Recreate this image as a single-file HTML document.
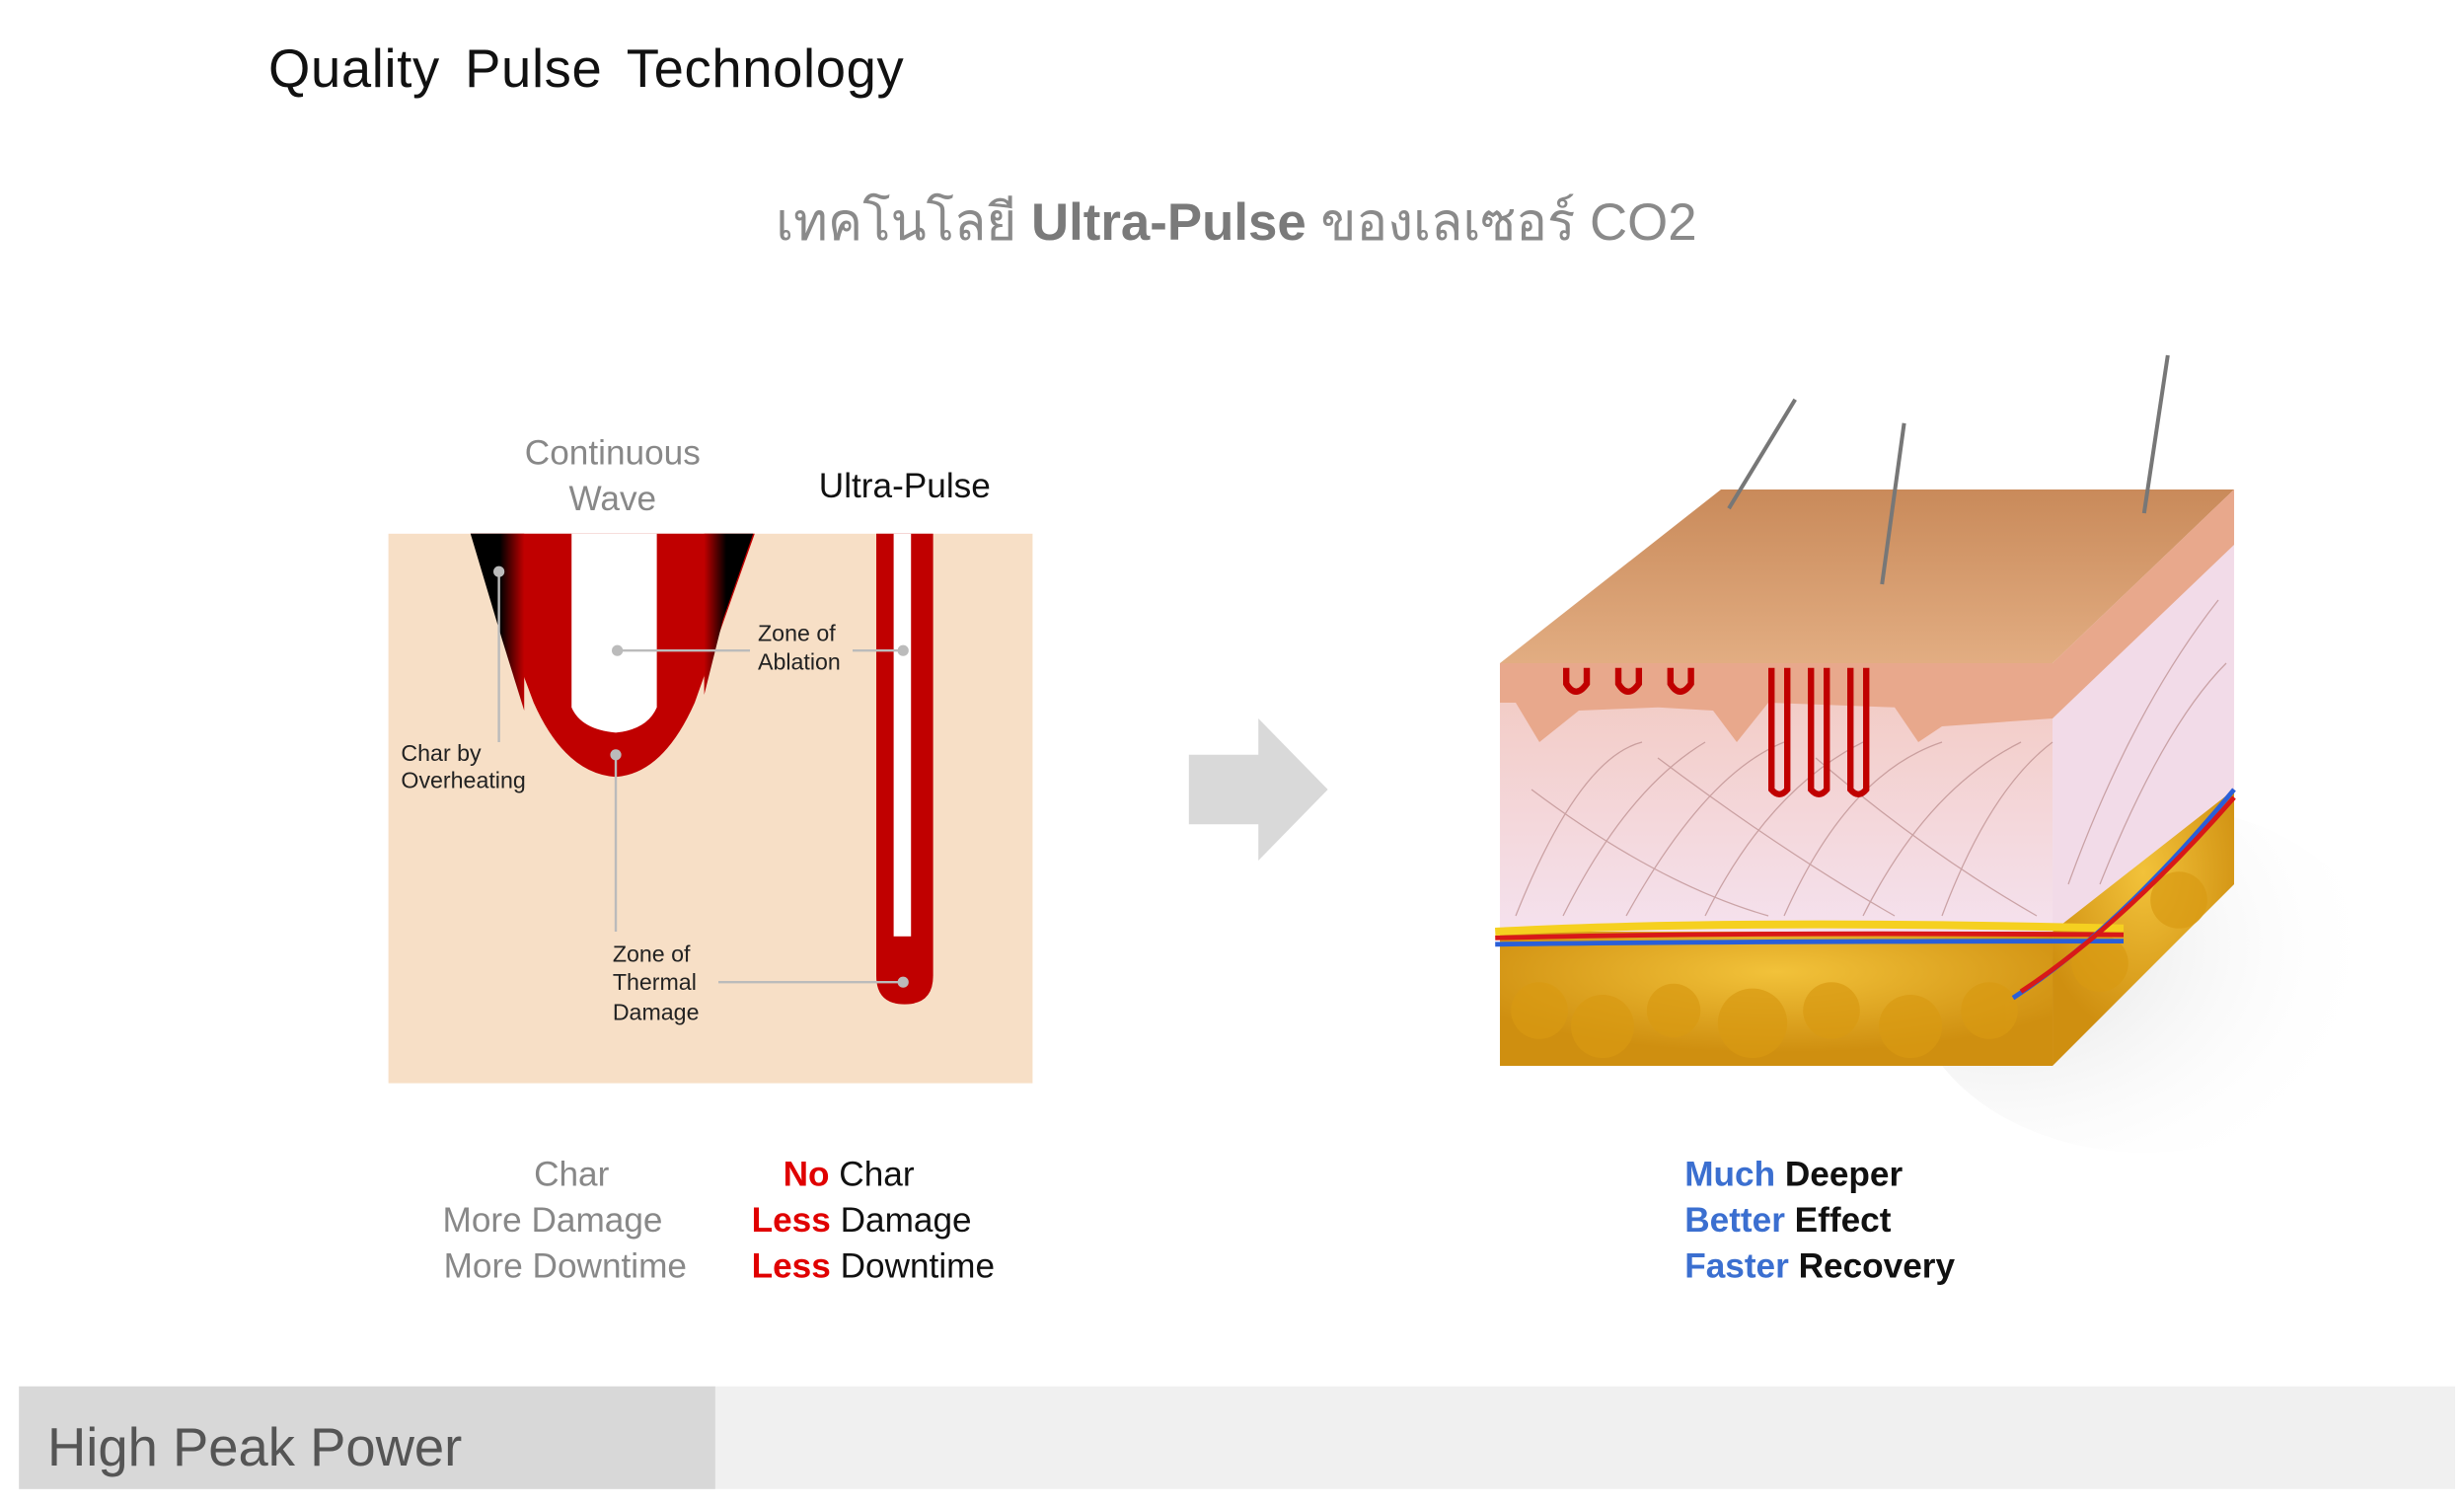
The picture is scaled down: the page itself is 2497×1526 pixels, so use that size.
<!DOCTYPE html>
<html><head><meta charset="utf-8"><style>
html,body{margin:0;padding:0;background:#fff;}
svg{display:block}
text{font-family:"Liberation Sans","Noto Sans CJK SC",sans-serif}
</style></head><body>
<svg width="2497" height="1526" viewBox="0 0 1560.6 953.75" xmlns="http://www.w3.org/2000/svg">
<defs>
<linearGradient id="charL" x1="0" x2="1"><stop offset="0" stop-color="#000"/><stop offset="0.55" stop-color="#000"/><stop offset="1" stop-color="#c00000"/></linearGradient>
<linearGradient id="charR" x1="1" x2="0"><stop offset="0" stop-color="#000"/><stop offset="0.55" stop-color="#000"/><stop offset="1" stop-color="#c00000"/></linearGradient>
<linearGradient id="top" x1="0" y1="0" x2="0" y2="1"><stop offset="0" stop-color="#c98a5a"/><stop offset="1" stop-color="#e2ad82"/></linearGradient>
<linearGradient id="derm" x1="0" y1="0" x2="0" y2="1"><stop offset="0" stop-color="#f2c9c0"/><stop offset="1" stop-color="#f5e2ef"/></linearGradient>
<radialGradient id="fat" cx="0.5" cy="0.3" r="0.6"><stop offset="0" stop-color="#f2c23a"/><stop offset="1" stop-color="#cf8f10"/></radialGradient>
<radialGradient id="shadow" cx="0.2" cy="0.4" r="0.8"><stop offset="0" stop-color="#ddd"/><stop offset="1" stop-color="#fff" stop-opacity="0"/></radialGradient>
</defs>
<text x="170" y="55" font-size="34" fill="#111" word-spacing="6" letter-spacing="0.4">Quality Pulse Technology</text>
<text x="783" y="152" font-size="33" fill="#8a8a8a" text-anchor="middle">เทคโนโลยี <tspan font-weight="bold" fill="#7a7a7a">Ultra-Pulse</tspan> ของเลเซอร์ CO2</text>

<!-- left diagram -->
<text x="388" y="294" font-size="22" fill="#888" text-anchor="middle">Continuous</text>
<text x="388" y="323" font-size="22" fill="#888" text-anchor="middle">Wave</text>
<text x="573" y="315" font-size="22" fill="#111" text-anchor="middle">Ultra-Pulse</text>
<rect x="246" y="338" width="408" height="348" fill="#f7dfc6"/>
<path d="M298,338 L478,338 L440,445 Q420,490 390,492 Q358,490 338,445 Z" fill="#c00000"/>
<path d="M298,338 L332,338 L332,450 L318,405 Z" fill="url(#charL)"/>
<path d="M477,338 L446,338 L446,440 L458,392 Z" fill="url(#charR)"/>
<path d="M362,338 L416,338 L416,448 Q410,462 390,464 Q368,462 362,448 Z" fill="#fff"/>
<path d="M555,338 L591,338 L591,618 Q591,636 573,636 Q555,636 555,618 Z" fill="#c00000"/>
<rect x="566" y="338" width="11" height="255" fill="#fff"/>
<g stroke="#bbb" stroke-width="1.5" fill="none">
<path d="M316,362 L316,470"/><path d="M391,412 L475,412"/><path d="M540,412 L572,412"/>
<path d="M390,478 L390,590"/><path d="M455,622 L572,622"/>
</g>
<g fill="#bbb"><circle cx="316" cy="362" r="3.5"/><circle cx="391" cy="412" r="3.5"/><circle cx="572" cy="412" r="3.5"/><circle cx="390" cy="478" r="3.5"/><circle cx="572" cy="622" r="3.5"/></g>
<g font-size="14.5" fill="#222">
<text x="480" y="406">Zone of</text><text x="480" y="424">Ablation</text>
<text x="254" y="482">Char by</text><text x="254" y="499">Overheating</text>
<text x="388" y="609">Zone of</text><text x="388" y="627">Thermal</text><text x="388" y="646">Damage</text>
</g>
<g font-size="22">
<text x="362" y="751" fill="#888" text-anchor="middle">Char</text>
<text x="350" y="780" fill="#888" text-anchor="middle">More Damage</text>
<text x="358" y="809" fill="#888" text-anchor="middle">More Downtime</text>
<text x="496" y="751" fill="#111"><tspan fill="#e00000" font-weight="bold">No</tspan> Char</text>
<text x="476" y="780" fill="#111"><tspan fill="#e00000" font-weight="bold">Less</tspan> Damage</text>
<text x="476" y="809" fill="#111"><tspan fill="#e00000" font-weight="bold">Less</tspan> Downtime</text>
</g>

<polygon points="753,478 797,478 797,455 841,500 797,545 797,522 753,522" fill="#d9d9d9"/>

<!-- skin block -->
<ellipse cx="1360" cy="620" rx="150" ry="110" fill="url(#shadow)"/>
<polygon points="1300,420 1415,310 1415,560 1300,675" fill="#f2dbe8"/>
<polygon points="1300,590 1415,500 1415,560 1300,675" fill="url(#fat)"/>
<rect x="950" y="420" width="350" height="175" fill="url(#derm)"/>
<rect x="950" y="590" width="350" height="85" fill="url(#fat)"/>
<g fill="#d99a12" opacity="0.7">
<circle cx="975" cy="640" r="18"/><circle cx="1015" cy="650" r="20"/><circle cx="1060" cy="640" r="17"/><circle cx="1110" cy="648" r="22"/><circle cx="1160" cy="640" r="18"/><circle cx="1210" cy="650" r="20"/><circle cx="1260" cy="640" r="18"/><circle cx="1330" cy="610" r="18"/><circle cx="1380" cy="570" r="18"/>
</g>
<polygon points="950,420 1090,310 1415,310 1300,420" fill="url(#top)"/>
<path d="M950,420 L1300,420 L1415,310 L1415,345 L1300,455 L1230,460 L1215,470 L1200,448 L1120,445 L1100,470 L1085,450 L1050,448 L1000,450 L975,470 L960,445 L950,445 Z" fill="#e8a88c"/>
<g stroke="#b98a8a" stroke-width="0.8" fill="none" opacity="0.7">
<path d="M960,580 Q1000,480 1040,470"/><path d="M990,580 Q1030,500 1080,470"/><path d="M1030,580 Q1080,490 1130,470"/><path d="M1080,580 Q1120,500 1180,470"/><path d="M1130,580 Q1170,490 1230,470"/><path d="M1180,580 Q1220,500 1280,470"/><path d="M1230,580 Q1260,500 1300,470"/>
<path d="M970,500 Q1050,560 1120,580"/><path d="M1050,480 Q1130,540 1200,580"/><path d="M1150,480 Q1220,540 1290,580"/>
<path d="M1310,560 Q1350,450 1405,380"/><path d="M1330,560 Q1370,460 1410,420"/>
</g>
<g fill="none" stroke="#c00000" stroke-width="4">
<path d="M992,423 L992,433 Q998,443 1005,433 L1005,423"/><path d="M1025,423 L1025,433 Q1031,443 1038,433 L1038,423"/><path d="M1058,423 L1058,433 Q1064,443 1071,433 L1071,423"/>
<path d="M1122,423 L1122,500 Q1127,506 1132,500 L1132,423"/><path d="M1147,423 L1147,500 Q1152,506 1157,500 L1157,423"/><path d="M1172,423 L1172,500 Q1177,506 1182,500 L1182,423"/>
</g>
<path d="M947,590 Q1100,582 1345,588" stroke="#f5d020" stroke-width="5" fill="none"/>
<path d="M947,594 Q1100,590 1345,592" stroke="#d81818" stroke-width="3" fill="none"/>
<path d="M947,598 Q1100,596 1345,596" stroke="#2a5fd8" stroke-width="3" fill="none"/>
<path d="M1275,632 Q1340,590 1415,500" stroke="#2a5fd8" stroke-width="3" fill="none"/>
<path d="M1280,628 Q1345,585 1415,505" stroke="#d81818" stroke-width="3" fill="none"/>
<g stroke="#777" stroke-width="2.5" fill="none">
<path d="M1095,322 L1137,253"/><path d="M1192,370 L1206,268"/><path d="M1358,325 L1373,225"/>
</g>
<g font-size="22" font-weight="bold" fill="#111">
<text x="1067" y="751"><tspan fill="#3b6fd0">Much</tspan> Deeper</text>
<text x="1067" y="780"><tspan fill="#3b6fd0">Better</tspan> Effect</text>
<text x="1067" y="809"><tspan fill="#3b6fd0">Faster</tspan> Recovery</text>
</g>

<rect x="12" y="878" width="1543" height="65" fill="#f0f0f0"/>
<rect x="12" y="878" width="441" height="65" fill="#d8d8d8"/>
<text x="30" y="928" font-size="34" fill="#555">High Peak Power</text>
</svg>
</body></html>
